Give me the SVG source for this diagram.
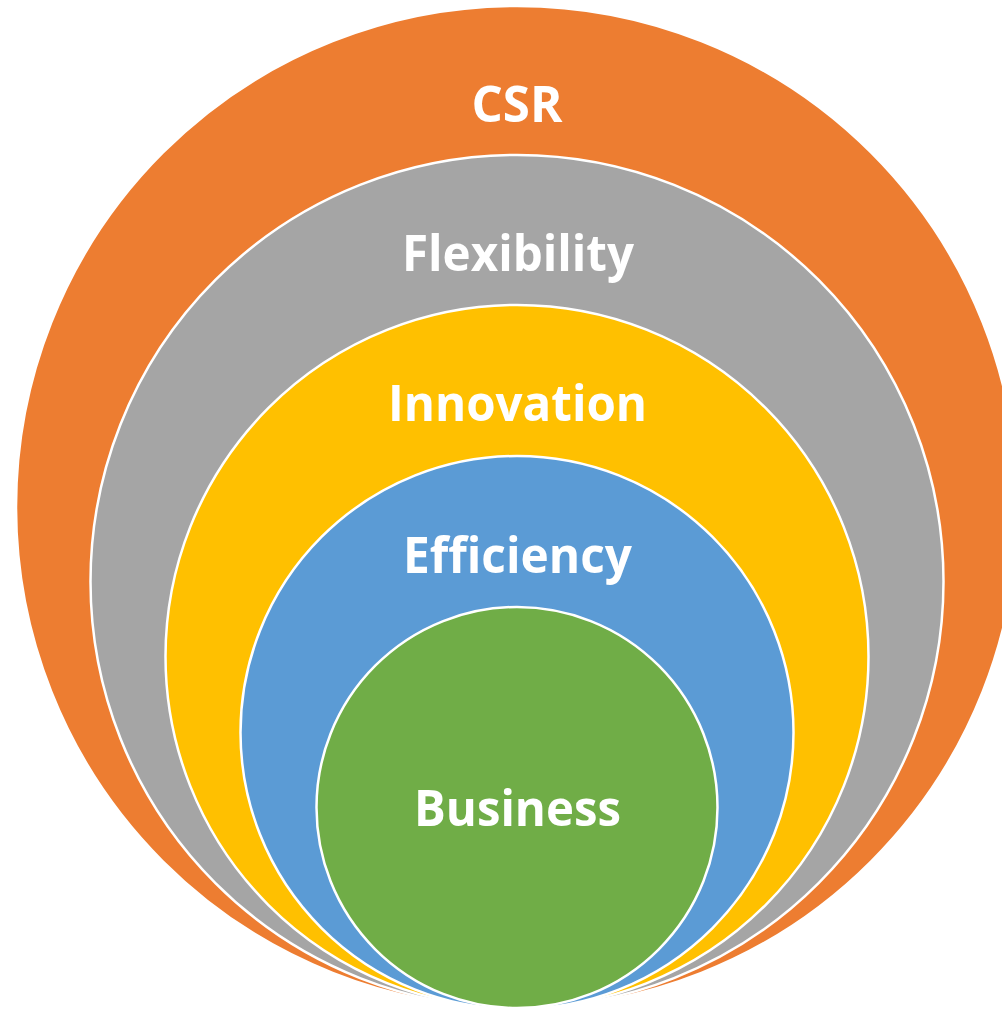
<svg xmlns="http://www.w3.org/2000/svg" width="1002" height="1010" viewBox="0 0 1002 1010">
<style>
.ring{stroke:#FFFFFF;stroke-width:2.5}
.lbl{font-family:"Open Sans","Liberation Sans",sans-serif;font-weight:bold;font-size:50px;fill:#FFFFFF;text-anchor:middle}
</style>
<rect width="1002" height="1010" fill="#FFFFFF"/>
<g id="csr">
<circle class="ring" cx="517" cy="507" r="501" fill="#ED7D31"/>
<text class="lbl" x="517" y="122" textLength="91" lengthAdjust="spacingAndGlyphs">CSR</text>
</g>
<g id="flexibility">
<circle class="ring" cx="517" cy="581.5" r="426.5" fill="#A5A5A5"/>
<text class="lbl" x="518" y="271" textLength="232" lengthAdjust="spacingAndGlyphs">Flexibility</text>
</g>
<g id="innovation">
<circle class="ring" cx="517" cy="656.5" r="351.5" fill="#FFC000"/>
<text class="lbl" x="517.5" y="421" textLength="259" lengthAdjust="spacingAndGlyphs">Innovation</text>
</g>
<g id="efficiency">
<circle class="ring" cx="517" cy="732.5" r="276.5" fill="#5B9BD5"/>
<text class="lbl" x="517.5" y="573" textLength="229" lengthAdjust="spacingAndGlyphs">Efficiency</text>
</g>
<g id="business">
<circle class="ring" cx="517" cy="807.5" r="200.5" fill="#70AD47"/>
<text class="lbl" x="517.5" y="826" textLength="207" lengthAdjust="spacingAndGlyphs">Business</text>
</g>
<g id="connectors"/>
</svg>
